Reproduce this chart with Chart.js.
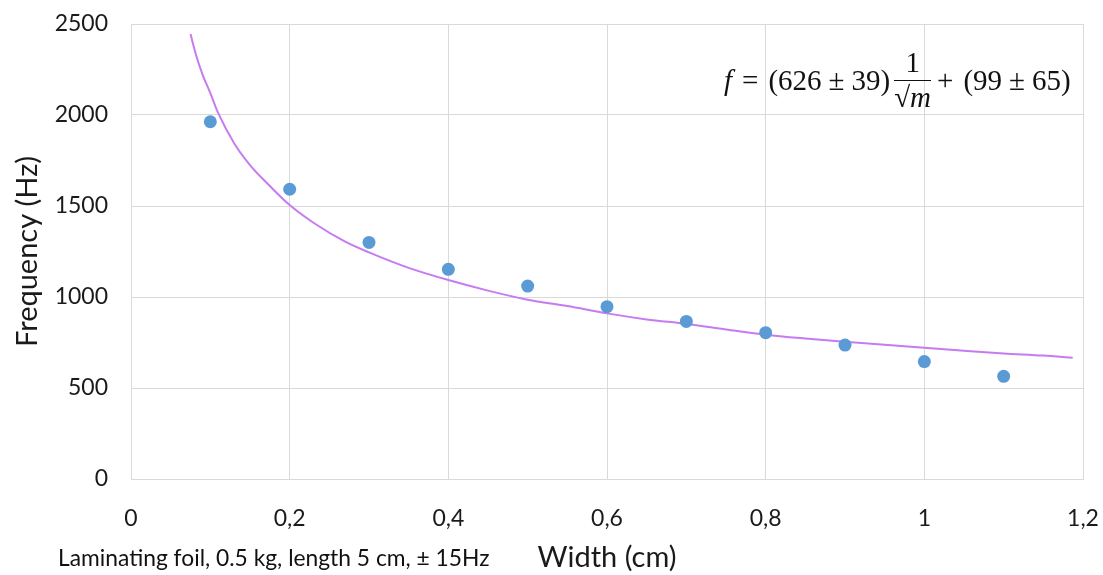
<!DOCTYPE html>
<html>
<head>
<meta charset="utf-8">
<script src="https://cdn.jsdelivr.net/npm/chart.js@4"></script>
<style>
  html, body { margin: 0; padding: 0; background: #fff; }
  #wrap { position: relative; width: 1103px; height: 575px; }
  #eq {
    position: absolute; left: 724px; top: 49px; height: 62px;
    font-family: 'Liberation Serif', serif; font-size: 29px; color: #111;
    display: flex; align-items: center; white-space: pre;
  }
  #eq .it { font-style: italic; }
  #eq .rel { margin: 0 10px; }
  #eq .pm { margin: 0 7px; }
  #eq .frac { display: inline-flex; flex-direction: column; align-items: center; margin: 0 6px 0 4px; line-height: 1; }
  #eq .frac .num { border-bottom: 1.5px solid #111; padding: 0 4px 3px; width: 100%; text-align: center; box-sizing: border-box; }
  #eq .frac .den { padding-top: 2px; }
  #note {
    position: absolute; left: 58px; top: 543px;
    font-family: Lato, sans-serif; font-size: 22.8px; color: #111;
  }
</style>
</head>
<body>
<div id="wrap">
  <canvas id="chart" width="1103" height="575"></canvas>
  <div id="eq"><span class="it">f</span><span class="rel">=</span>(626<span class="pm">±</span>39)<span class="frac"><span class="num">1</span><span class="den">√<span class="it">m</span></span></span>+<span style="margin-left:10px">(99</span><span class="pm">±</span>65)</div>
  <div id="note">Laminating foil, 0.5 kg, length 5 cm, ± 15Hz</div>
</div>
<script>
// measured points
const widths = [0.1, 0.2, 0.3, 0.4, 0.5, 0.6, 0.7, 0.8, 0.9, 1.0, 1.1];
const freqs = [1963, 1592, 1300, 1152, 1060, 947, 866, 804, 736, 645, 564];

// fit curve
const fitX = [0.075, 0.082, 0.09, 0.1, 0.11, 0.13, 0.15, 0.175, 0.2, 0.23, 0.27, 0.3, 0.35, 0.4, 0.45, 0.5, 0.55, 0.6, 0.65, 0.7, 0.75, 0.8, 0.85, 0.9, 0.95, 1.0, 1.05, 1.1, 1.15, 1.187];
const fitY = [2445, 2330, 2225, 2120, 2010, 1845, 1725, 1610, 1505, 1408, 1304, 1245, 1160, 1093, 1035, 985, 950, 910, 877, 852, 822, 793, 772, 754, 737, 721, 705, 690, 678, 666];

const xTickLabels = ['0', '0,2', '0,4', '0,6', '0,8', '1', '1,2'];

const gridColor = '#D9D9D9';
const textColor = '#1a1a1a';

new Chart(document.getElementById('chart'), {
  type: 'scatter',
  data: {
    datasets: [
      {
        label: 'Measured',
        data: widths.map((w, i) => ({ x: w, y: freqs[i] })),
        backgroundColor: '#5B9BD5',
        borderWidth: 0,
        pointRadius: 6.5,
        order: 0
      },
      {
        label: 'Fit',
        data: fitX.map((w, i) => ({ x: w, y: fitY[i] })),
        showLine: true,
        borderColor: '#C77BF0',
        borderWidth: 2,
        pointRadius: 0,
        cubicInterpolationMode: 'monotone',
        order: 1
      }
    ]
  },
  options: {
    responsive: false,
    animation: false,
    layout: { padding: { top: 24, right: 20, left: 0, bottom: 0 } },
    plugins: { legend: { display: false }, tooltip: { enabled: false } },
    scales: {
      x: {
        type: 'linear', min: 0, max: 1.2,
        ticks: {
          stepSize: 0.2, padding: 26, color: textColor,
          font: { family: 'Lato', size: 23 },
          callback: (v, i) => xTickLabels[i]
        },
        grid: { color: gridColor, drawTicks: false },
        border: { color: gridColor },
        title: {
          display: true, text: 'Width (cm)', color: textColor,
          font: { family: 'Lato', size: 29 }, padding: { top: 1, bottom: 0 }
        },
        afterFit: s => { s.height = 96; s.paddingLeft = 0; s.paddingRight = 0; }
      },
      y: {
        min: 0, max: 2500,
        ticks: {
          stepSize: 500, padding: 23, color: textColor,
          font: { family: 'Lato', size: 23 },
          callback: v => String(v)
        },
        grid: { color: gridColor, drawTicks: false },
        border: { color: gridColor },
        title: {
          display: true, text: 'Frequency (Hz)', color: textColor,
          font: { family: 'Lato', size: 29 }, padding: { top: 10, bottom: 0 }
        },
        afterFit: s => { s.width = 131; s.paddingTop = 0; s.paddingBottom = 0; }
      }
    }
  }
});
</script>
</body>
</html>
